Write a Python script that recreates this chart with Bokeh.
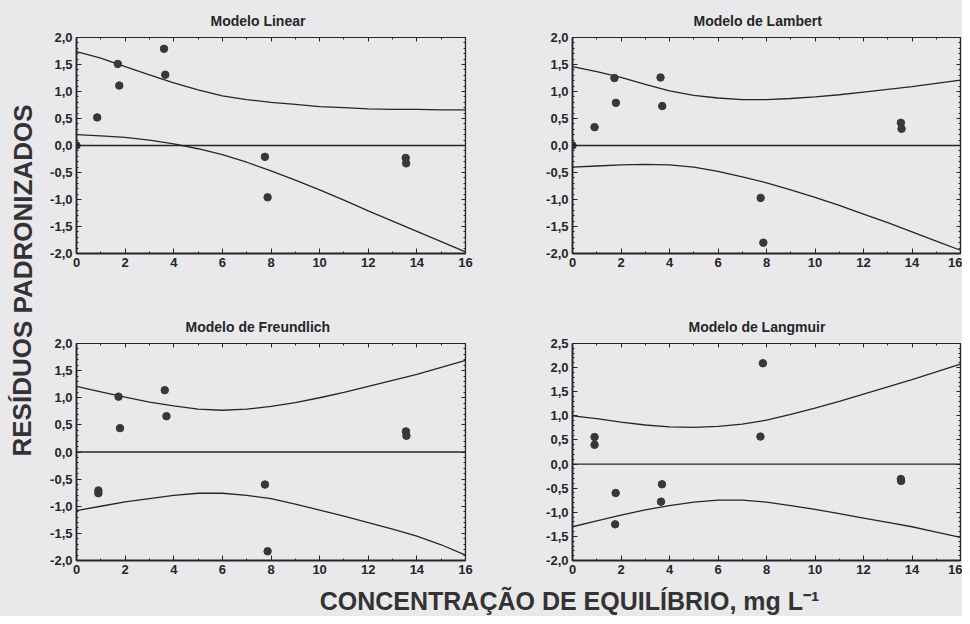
from bokeh.plotting import figure
from bokeh.models import Range1d, LinearAxis, Span, CustomJSTickFormatter, SingleIntervalTicker
from bokeh.layouts import row, column
from bokeh.embed import file_html
from bokeh.resources import INLINE
from bokeh.core.properties import value

# ---------------- data ----------------
panel_titles = ["Modelo Linear", "Modelo de Lambert", "Modelo de Freundlich", "Modelo de Langmuir"]
y_label = "RESÍDUOS PADRONIZADOS"
x_label = "CONCENTRAÇÃO DE EQUILÍBRIO, mg L⁻¹"

band_x = [0, 1, 2, 3, 4, 5, 6, 7, 8, 9, 10, 11, 12, 13, 14, 15, 16]

linear_x = [0.0, 0.85, 1.70, 1.76, 3.60, 3.65, 7.75, 7.86, 13.54, 13.56]
linear_y = [0.0, 0.52, 1.51, 1.11, 1.79, 1.31, -0.21, -0.96, -0.23, -0.33]
linear_upper = [1.74, 1.62, 1.46, 1.31, 1.16, 1.03, 0.92, 0.85, 0.80, 0.76, 0.72, 0.70, 0.68, 0.67, 0.67, 0.66, 0.66]
linear_lower = [0.20, 0.18, 0.15, 0.10, 0.03, -0.06, -0.17, -0.31, -0.47, -0.64, -0.82, -1.01, -1.21, -1.40, -1.59, -1.78, -1.97]

lambert_x = [0.0, 0.91, 1.73, 1.79, 3.63, 3.70, 7.76, 7.87, 13.54, 13.57]
lambert_y = [0.0, 0.34, 1.25, 0.79, 1.26, 0.73, -0.97, -1.80, 0.42, 0.31]
lambert_upper = [1.46, 1.37, 1.26, 1.13, 1.01, 0.93, 0.88, 0.85, 0.85, 0.87, 0.90, 0.94, 0.99, 1.04, 1.09, 1.15, 1.21]
lambert_lower = [-0.40, -0.38, -0.36, -0.35, -0.36, -0.40, -0.48, -0.58, -0.69, -0.82, -0.96, -1.11, -1.27, -1.43, -1.60, -1.77, -1.94]

freundlich_x = [0.90, 0.90, 1.73, 1.79, 3.63, 3.70, 7.75, 7.86, 13.55, 13.57]
freundlich_y = [-0.71, -0.76, 1.02, 0.44, 1.14, 0.66, -0.60, -1.83, 0.38, 0.30]
freundlich_upper = [1.21, 1.11, 1.01, 0.92, 0.85, 0.79, 0.77, 0.79, 0.84, 0.91, 1.00, 1.10, 1.21, 1.32, 1.43, 1.56, 1.69]
freundlich_lower = [-1.08, -1.00, -0.92, -0.86, -0.80, -0.76, -0.76, -0.80, -0.86, -0.96, -1.07, -1.18, -1.30, -1.42, -1.55, -1.71, -1.90]

langmuir_x = [0.91, 0.91, 1.78, 1.76, 3.69, 3.65, 7.75, 7.85, 13.54, 13.55]
langmuir_y = [0.56, 0.40, -0.60, -1.25, -0.42, -0.78, 0.57, 2.09, -0.31, -0.35]
langmuir_upper = [1.00, 0.94, 0.87, 0.81, 0.77, 0.76, 0.78, 0.83, 0.91, 1.03, 1.16, 1.30, 1.45, 1.60, 1.75, 1.91, 2.07]
langmuir_lower = [-1.30, -1.18, -1.06, -0.95, -0.86, -0.79, -0.75, -0.75, -0.79, -0.86, -0.94, -1.03, -1.12, -1.21, -1.30, -1.41, -1.52]

y_limits = [(-2.0, 2.0), (-2.0, 2.0), (-2.0, 2.0), (-2.0, 2.5)]

# ---------------- styling ----------------
BG = "#e9e9eb"
INK = "#262626"
DOT = "#383838"
FONT = "Liberation Sans"

y_fmt = CustomJSTickFormatter(code="return tick.toFixed(1).replace('.', ',');")


def make_panel(title, title_offset, px, py, upper, lower, ylim,
               width, height, left, right, top, bottom):
    p = figure(width=width, height=height, x_range=Range1d(0, 16), y_range=Range1d(*ylim),
               output_backend="svg", toolbar_location=None,
               min_border_left=left, min_border_right=right,
               min_border_top=top, min_border_bottom=bottom,
               background_fill_color=BG, border_fill_color=BG)
    p.grid.visible = False
    p.outline_line_color = INK
    p.outline_line_width = 1.2

    p.title.text = title
    p.title.align = "left"
    p.title.offset = title_offset
    p.title.standoff = 18
    p.title.text_font = FONT
    p.title.text_font_style = "bold"
    p.title.text_font_size = "14px"
    p.title.text_color = INK

    xt = SingleIntervalTicker(interval=2, num_minor_ticks=2)
    yt = SingleIntervalTicker(interval=0.5, num_minor_ticks=5)
    p.xaxis.ticker = xt
    p.yaxis.ticker = yt
    p.yaxis.formatter = y_fmt
    for ax in (p.xaxis[0], p.yaxis[0]):
        ax.axis_line_width = 1.8
        ax.axis_line_color = INK
        ax.major_tick_in = 5
        ax.major_tick_out = 0
        ax.minor_tick_in = 2
        ax.minor_tick_out = 0
        ax.major_tick_line_color = INK
        ax.minor_tick_line_color = INK
        ax.major_label_text_font = FONT
        ax.major_label_text_font_style = "bold"
        ax.major_label_text_font_size = "13px"
        ax.major_label_text_color = INK
        ax.major_label_standoff = 4

    # inward ticks on the top and right edges (no labels)
    top_ax = LinearAxis(ticker=xt, fixed_location=ylim[1], major_label_text_color=None,
                        major_tick_in=4, major_tick_out=0, minor_tick_in=2, minor_tick_out=0,
                        axis_line_color=INK, axis_line_width=1.2,
                        major_tick_line_color=INK, minor_tick_line_color=INK)
    right_ax = LinearAxis(ticker=yt, fixed_location=16, major_label_text_color=None,
                          major_tick_in=4, major_tick_out=0, minor_tick_in=2, minor_tick_out=0,
                          axis_line_color=INK, axis_line_width=1.2,
                          major_tick_line_color=INK, minor_tick_line_color=INK)
    p.add_layout(top_ax, "above")
    p.add_layout(right_ax, "right")

    p.add_layout(Span(location=0, dimension="width", line_color=INK, line_width=1.3))
    p.line(band_x, upper, line_color=INK, line_width=1.3)
    p.line(band_x, lower, line_color=INK, line_width=1.3)
    p.scatter(px, py, size=7.5, fill_color=DOT, line_color=DOT)
    return p


p1 = make_panel(panel_titles[0], 134, linear_x, linear_y, linear_upper, linear_lower, y_limits[0],
                480, 290, 36, 55, 37, 37)
p2 = make_panel(panel_titles[1], 121, lambert_x, lambert_y, lambert_upper, lambert_lower, y_limits[1],
                442, 290, 52, 2, 37, 37)
p3 = make_panel(panel_titles[2], 109, freundlich_x, freundlich_y, freundlich_upper, freundlich_lower,
                y_limits[2], 480, 292, 36, 55, 53, 22)
p4 = make_panel(panel_titles[3], 116, langmuir_x, langmuir_y, langmuir_upper, langmuir_lower,
                y_limits[3], 442, 292, 52, 2, 53, 22)

# y label strip
ylab = figure(width=40, height=616, x_range=Range1d(0, 40), y_range=Range1d(0, 616),
              output_backend="svg", toolbar_location=None, min_border=0,
              background_fill_color=BG, border_fill_color=BG)
ylab.axis.visible = False
ylab.grid.visible = False
ylab.outline_line_color = None
ylab.text(x=[22], y=[336], text=[y_label], angle=1.5707963, text_align="center",
          text_baseline="middle", text_font=value(FONT), text_font_style="bold",
          text_font_size="26px", text_color="#333333")

# x label strip
xlab = figure(width=922, height=34, x_range=Range1d(0, 922), y_range=Range1d(0, 34),
              output_backend="svg", toolbar_location=None, min_border=0,
              background_fill_color=BG, border_fill_color=BG)
xlab.axis.visible = False
xlab.grid.visible = False
xlab.outline_line_color = None
xlab.text(x=[529], y=[16], text=[x_label], text_align="center", text_baseline="middle",
          text_font=value(FONT), text_font_style="bold", text_font_size="25px", text_color="#333333")

layout = row(ylab,
             column(row(p1, p2, styles={"background-color": BG}),
                    row(p3, p4, styles={"background-color": BG}),
                    xlab, styles={"background-color": BG}),
             styles={"background-color": BG})

open("out.html", "w").write(file_html(layout, INLINE))
